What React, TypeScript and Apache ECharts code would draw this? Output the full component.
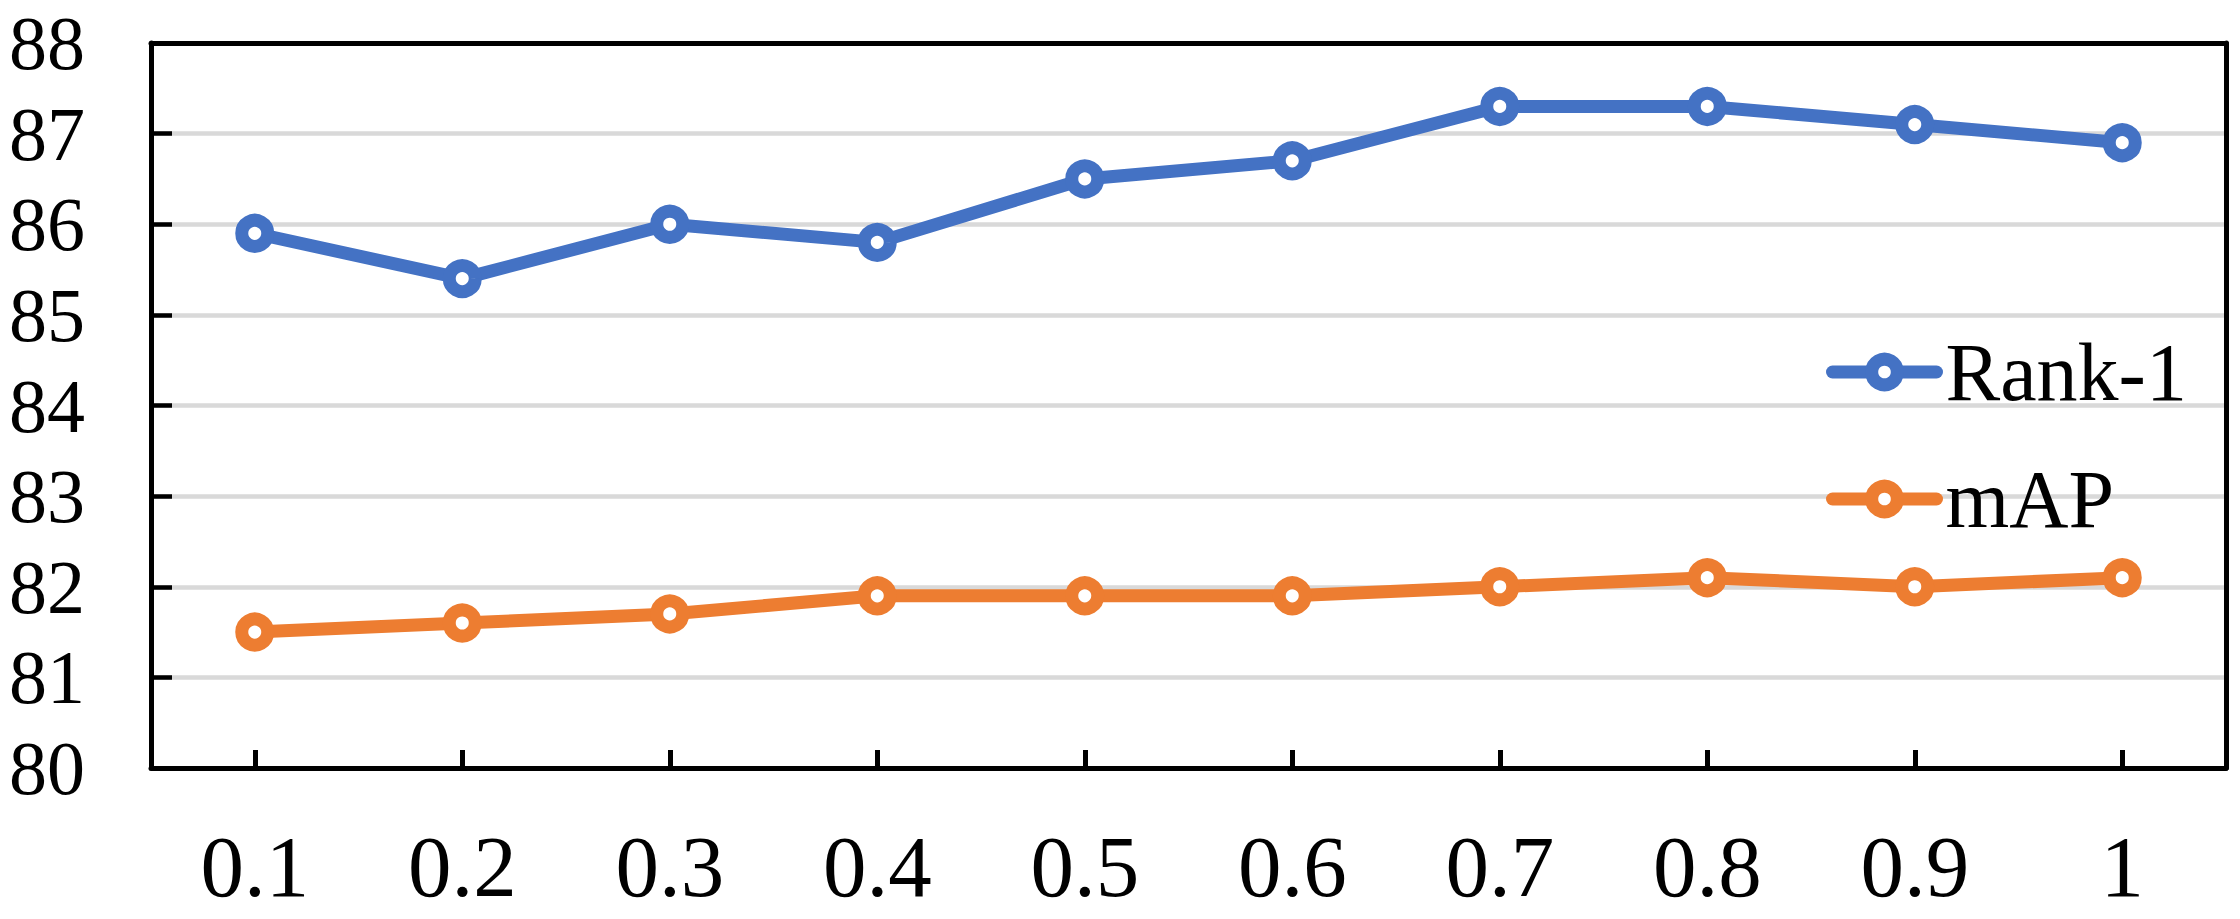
import React, { useEffect, useRef } from "react";
import * as echarts from "echarts";

const categories = ["0.1", "0.2", "0.3", "0.4", "0.5", "0.6", "0.7", "0.8", "0.9", "1"];
const rank1 = [85.9, 85.4, 86.0, 85.8, 86.5, 86.7, 87.3, 87.3, 87.1, 86.9];
const mAP = [81.5, 81.6, 81.7, 81.9, 81.9, 81.9, 82.0, 82.1, 82.0, 82.1];
const yMin = 80;
const yMax = 88;
const yStep = 1;

const BLUE = "#4472C4";
const ORANGE = "#ED7D31";
const GRID = "#D9D9D9";
const FONT = "'Liberation Serif', 'Times New Roman', serif";

export default function App() {
  const ref = useRef<HTMLDivElement>(null);
  useEffect(() => {
    if (!ref.current) return;
    const chart = echarts.init(ref.current, null, { renderer: "svg" });
    const mkSeries = (name: string, data: number[], color: string) => ({
      name,
      type: "line",
      data,
      xAxisIndex: 0,
      yAxisIndex: 0,
      symbol: "circle",
      symbolSize: 26,
      showSymbol: true,
      lineStyle: { color, width: 13, cap: "round", join: "round" },
      itemStyle: { color: "#ffffff", borderColor: color, borderWidth: 13 },
      emphasis: { disabled: true },
      z: 3,
    });
    const blackLine = { show: true, lineStyle: { color: "#000000", width: 5 } };
    chart.setOption({
      animation: false,
      backgroundColor: "#ffffff",
      textStyle: { fontFamily: FONT },
      grid: {
        left: 151,
        right: 14,
        top: 43,
        bottom: 151,
        show: false,
      },
      legend: {
        orient: "vertical",
        left: 1826,
        top: 331,
        padding: 0,
        itemWidth: 104,
        itemHeight: 32,
        itemGap: 45,
        textStyle: { fontSize: 82, color: "#000000", fontFamily: FONT, padding: [0, 0, 0, 4] },
        lineStyle: { width: 13, cap: "round" },
        itemStyle: { borderWidth: 13 },
        data: ["Rank-1", "mAP"],
      },
      xAxis: [
        {
          type: "category",
          data: categories,
          boundaryGap: true,
          position: "bottom",
          axisLine: blackLine,
          axisTick: {
            show: true,
            inside: true,
            alignWithLabel: true,
            length: 18,
            lineStyle: { color: "#000000", width: 5 },
          },
          axisLabel: { fontSize: 87, color: "#000000", margin: 55, fontFamily: FONT },
          splitLine: { show: false },
          z: 5,
        },
        {
          type: "category",
          data: categories,
          boundaryGap: true,
          position: "top",
          axisLine: blackLine,
          axisTick: { show: false },
          axisLabel: { show: false },
          splitLine: { show: false },
          z: 5,
        },
      ],
      yAxis: [
        {
          type: "value",
          min: yMin,
          max: yMax,
          interval: yStep,
          position: "left",
          axisLine: blackLine,
          axisTick: {
            show: true,
            inside: true,
            length: 21,
            lineStyle: { color: "#000000", width: 4.5 },
          },
          axisLabel: { fontSize: 76, color: "#000000", margin: 66, fontFamily: FONT },
          splitLine: { show: true, lineStyle: { color: GRID, width: 4.5 } },
          z: 1,
        },
        {
          type: "value",
          min: yMin,
          max: yMax,
          interval: yStep,
          position: "right",
          axisLine: blackLine,
          axisTick: { show: false },
          axisLabel: { show: false },
          splitLine: { show: false },
          z: 5,
        },
      ],
      series: [mkSeries("Rank-1", rank1, BLUE), mkSeries("mAP", mAP, ORANGE)],
    });
    return () => chart.dispose();
  }, []);
  return (
    <div
      ref={ref}
      style={{ position: "absolute", left: 0, top: 0, width: 2240, height: 919, background: "#fff" }}
    />
  );
}
